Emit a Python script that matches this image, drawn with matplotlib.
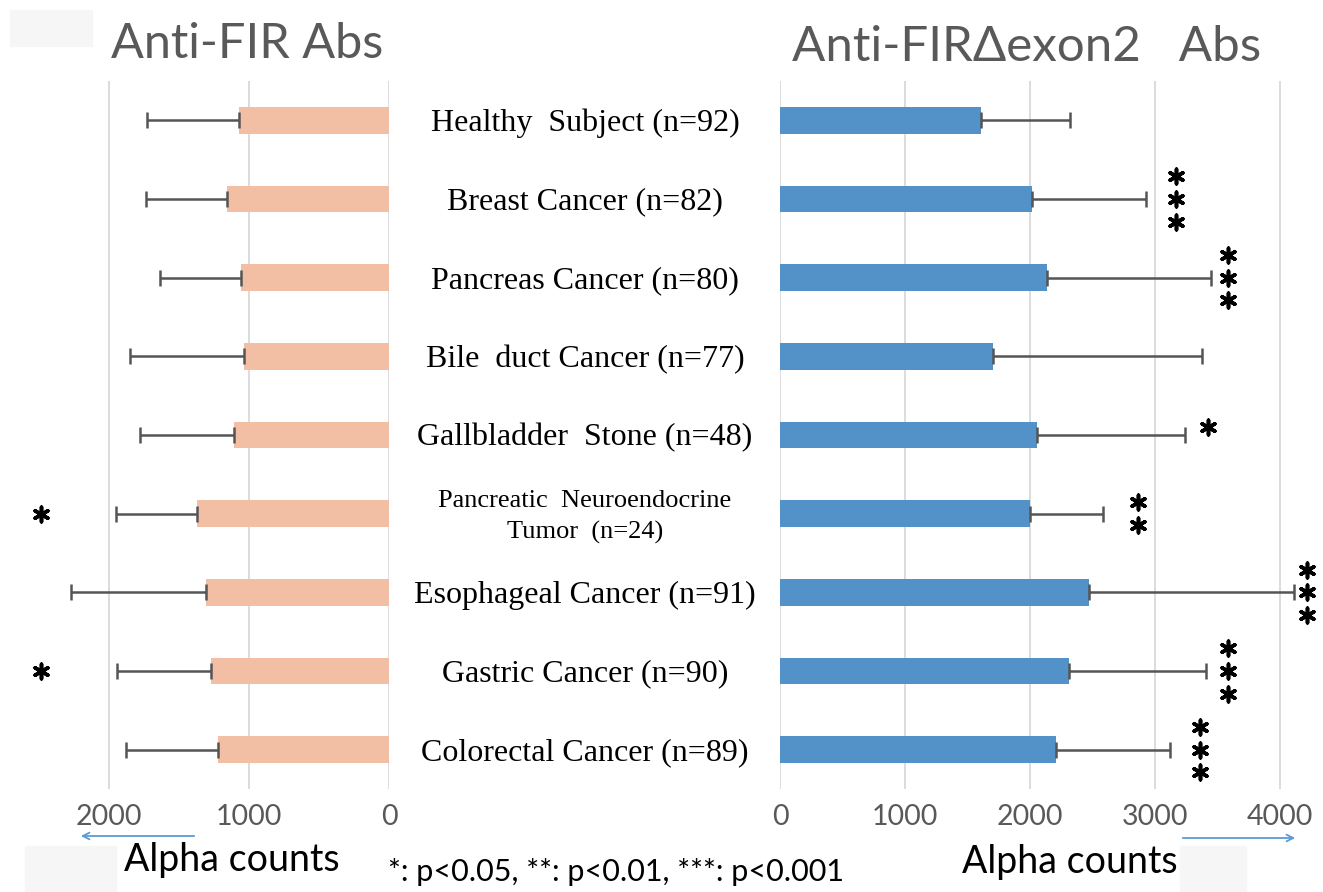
"""
Anti-FIR / Anti-FIR-delta-exon2 antibody levels, back-to-back bars
"""
import numpy as np
import matplotlib
matplotlib.use('Agg')
import matplotlib.pyplot as plt
from matplotlib.patches import Rectangle, FancyArrowPatch

# data
groups = ['Healthy  Subject (n=92)', 'Breast Cancer (n=82)', 'Pancreas Cancer (n=80)',
          'Bile  duct Cancer (n=77)', 'Gallbladder  Stone (n=48)',
          'Pancreatic  Neuroendocrine\nTumor  (n=24)', 'Esophageal Cancer (n=91)',
          'Gastric Cancer (n=90)', 'Colorectal Cancer (n=89)']
fir_mean = [1069, 1157, 1057, 1033, 1107, 1369, 1307, 1269, 1219]
fir_err = [657, 581, 581, 817, 669, 581, 967, 672, 657]
exon2_mean = [1608, 2015, 2139, 1707, 2055, 2000, 2473, 2309, 2208]
exon2_err = [710, 916, 1311, 1671, 1184, 582, 1637, 1098, 916]
# significance marks (number of stars) and where they sit on the value axis
fir_stars = [0, 0, 0, 0, 0, 1, 0, 1, 0]
fir_star_x = 2488
exon2_stars = [0, 3, 3, 0, 1, 2, 3, 3, 3]
exon2_star_x = [0, 3170, 3585, 0, 3425, 2865, 4215, 3585, 3360]

W, H = 1323, 892
fig = plt.figure(figsize=(W / 100, H / 100), dpi=100)

def frac(x0, y0, x1, y1):
    return [x0 / W, 1 - y1 / H, (x1 - x0) / W, (y1 - y0) / H]

pink = '#F2BFA5'
blue = '#5391C9'
grid_c = '#D9D9D9'
txt_c = '#595959'
ypos = np.arange(len(groups))
top, bot = 81, 789

axl = fig.add_axes(frac(30, top, 389, bot))
axr = fig.add_axes(frac(780, top, 1300, bot))

ekw = dict(ecolor='#555555', elinewidth=1.8, capsize=6, capthick=1.8)
axl.barh(ypos, fir_mean, height=0.34, color=pink, zorder=2,
         xerr=[np.zeros(len(ypos)), fir_err], error_kw=ekw)
axr.barh(ypos, exon2_mean, height=0.34, color=blue, zorder=2,
         xerr=[np.zeros(len(ypos)), exon2_err], error_kw=ekw)

axl.set_xlim(2565, 0)
axr.set_xlim(0, 4160)
axl.set_xticks([2000, 1000, 0])
axr.set_xticks([0, 1000, 2000, 3000, 4000])

for ax in (axl, axr):
    ax.set_ylim(8.5, -0.5)
    ax.set_yticks([])
    for s in ax.spines.values():
        s.set_visible(False)
    ax.xaxis.grid(True, color=grid_c, lw=1.3, zorder=0)
    ax.set_axisbelow(True)
    ax.tick_params(axis='x', length=0, pad=11, labelsize=20.5, labelcolor=txt_c)
    for lab in ax.get_xticklabels():
        lab.set_family(['Lato', 'DejaVu Sans'])

# stars as six-armed asterisks
step = 0.29
for i, n in enumerate(fir_stars):
    if n:
        ys = i + (np.arange(n) - (n - 1) / 2) * step
        axl.scatter([fir_star_x] * n, ys, marker=(6, 2, 0), s=110, lw=2.6,
                    color='black', clip_on=False, zorder=3)
for i, n in enumerate(exon2_stars):
    if n:
        off = -0.1 if n == 1 else 0.0
        ys = i + off + (np.arange(n) - (n - 1) / 2) * step
        axr.scatter([exon2_star_x[i]] * n, ys, marker=(6, 2, 0), s=110, lw=2.6,
                    color='black', clip_on=False, zorder=3)

# group names between the panels
for i, g in enumerate(groups):
    yf = 1 - (top + (i + 0.5) * ((bot - top) / 9) + 3) / H
    small = '\n' in g
    fig.text(585 / W, yf, g, ha='center', va='center', family='Liberation Serif',
             fontsize=19 if small else 23, linespacing=1.5)

# titles
fig.text(247 / W, 1 - 44 / H, 'Anti-FIR Abs', ha='center', va='center',
         fontsize=35, color=txt_c, family=['Lato', 'DejaVu Sans'])
fig.text(1027 / W, 1 - 47 / H, 'Anti-FIRΔexon2   Abs', ha='center', va='center',
         fontsize=35.5, color=txt_c, family=['Lato', 'DejaVu Sans'])

# axis captions with arrows
fig.text(232 / W, 1 - 860 / H, 'Alpha counts', ha='center', va='center',
         fontsize=27, family=['Lato', 'DejaVu Sans'])
fig.text(1070 / W, 1 - 862 / H, 'Alpha counts', ha='center', va='center',
         fontsize=27, family=['Lato', 'DejaVu Sans'])
fig.text(616 / W, 1 - 872 / H, '*: p<0.05, **: p<0.01, ***: p<0.001', ha='center',
         va='center', fontsize=22, family=['Lato', 'DejaVu Sans'])

for (x0, x1, y) in [(197, 78, 836), (1180, 1298, 838)]:
    fig.patches.append(FancyArrowPatch((x0 / W, 1 - y / H), (x1 / W, 1 - y / H),
                                       transform=fig.transFigure, arrowstyle='->',
                                       mutation_scale=12, color='#5B9BD5', lw=1.3))

# faint boxes left over in the original figure
for (x0, y0, x1, y1) in [(10, 10, 92, 46), (25, 846, 116, 892), (1180, 846, 1246, 892)]:
    fig.patches.append(Rectangle((x0 / W, 1 - y1 / H), (x1 - x0) / W, (y1 - y0) / H,
                                 transform=fig.transFigure, color='#F6F6F6', zorder=0))

fig.savefig('out.png', dpi=100, facecolor='white')
